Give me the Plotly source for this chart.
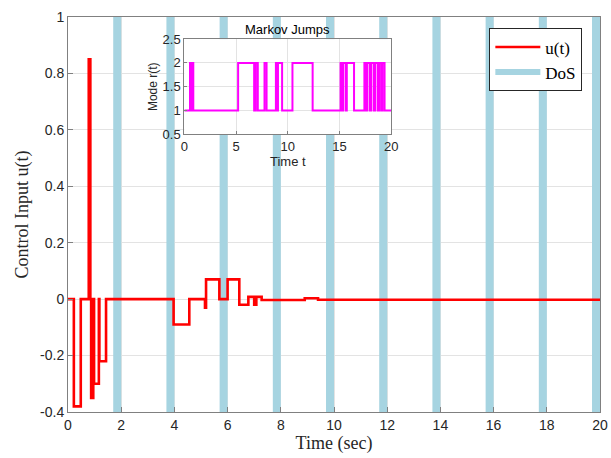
import plotly.graph_objects as go

# ---- Data ----
# Control input u(t) (step / zero-order-hold signal)
t_u = [0, 0.22, 0.48, 0.78, 0.84, 0.87, 0.95, 0.98, 1.16, 1.18, 1.43, 3.97, 4.56, 5.15, 5.19,
       5.69, 6.0, 6.44, 6.78, 7.0, 7.08, 7.28, 8.9, 9.4, 20]
u = [0, -0.38, 0, 0.85, 0, -0.35, 0, -0.30, 0, -0.22, 0, -0.09, 0, -0.03, 0.07,
     0, 0.07, -0.02, 0.008, -0.02, 0.008, -0.003, 0.003, -0.002, -0.002]

# DoS attack intervals (start, end) in seconds
dos_start = [1.7, 3.7, 5.7, 7.7, 9.7, 11.7, 13.7, 15.7, 17.7, 19.7]
dos_end = [2.0, 4.0, 6.0, 8.0, 10.0, 12.0, 14.0, 16.0, 18.0, 20.0]

# Markov mode r(t): switching instants and the mode taken from each instant
t_mode = [0, 0.55, 0.72, 0.78, 0.87, 5.2, 6.75, 6.9, 7.1, 7.75, 7.95, 8.85, 9.0, 9.05, 9.45,
          10.45, 12.4, 15.1, 15.25, 15.35, 15.6, 15.7, 16.4, 17.4, 17.55, 17.65, 17.9,
          18.05, 18.3, 18.45, 18.7, 18.85, 19.05, 19.15, 19.35, 20]
mode = [1, 2, 1, 2, 1, 2, 1, 2, 1, 2, 1, 2, 1, 2, 1,
        2, 1, 2, 1, 2, 1, 2, 1, 2, 1, 2, 1,
        2, 1, 2, 1, 2, 1, 2, 1, 1]

x_ticks = [0, 2, 4, 6, 8, 10, 12, 14, 16, 18, 20]
y_ticks = [-0.4, -0.2, 0, 0.2, 0.4, 0.6, 0.8, 1]
y_ticklabels = ["-0.4", "-0.2", "0", "0.2", "0.4", "0.6", "0.8", "1"]
inset_x_ticks = [0, 5, 10, 15, 20]
inset_y_ticks = [0.5, 1, 1.5, 2, 2.5]
inset_y_ticklabels = ["0.5", "1", "1.5", "2", "2.5"]

Y_MIN, Y_MAX = -0.4, 1.0

# ---- Build DoS band polygons ----
band_x, band_y = [], []
for s, e in zip(dos_start, dos_end):
    band_x += [s, e, e, s, s, None]
    band_y += [Y_MIN, Y_MIN, Y_MAX, Y_MAX, Y_MIN, None]

BAND = "#a6d4e1"
SANS = "Liberation Sans, Arial, sans-serif"
SERIF = "Liberation Serif, Times New Roman, serif"
AX = "#808080"
GRID = "#e3e3e3"
TXT = "#262626"

fig = go.Figure()

fig.add_trace(go.Scatter(
    x=band_x, y=band_y, fill="toself", fillcolor=BAND, mode="none",
    name="DoS", xaxis="x", yaxis="y", hoverinfo="skip", legendrank=2))

fig.add_trace(go.Scatter(
    x=t_u, y=u, mode="lines", line=dict(color="#ff0000", width=2.6, shape="hv"),
    name="u(t)", xaxis="x", yaxis="y", legendrank=1))

fig.add_trace(go.Scatter(
    x=t_mode, y=mode, mode="lines", line=dict(color="#ff00ff", width=2, shape="hv"),
    showlegend=False, xaxis="x2", yaxis="y2"))

fig.update_layout(
    width=611, height=458,
    margin=dict(l=68, r=11, t=17, b=46, autoexpand=False),
    paper_bgcolor="white", plot_bgcolor="white",
    showlegend=True,
    legend=dict(
        x=0.792, y=0.971, xanchor="left", yanchor="top",
        bgcolor="white", bordercolor=TXT, borderwidth=1,
        font=dict(family=SERIF, size=17, color="black"),
        tracegroupgap=0, itemwidth=45,
    ),
    xaxis=dict(
        domain=[0, 1], range=[0, 20], tickvals=x_ticks, automargin=False,
        showline=True, mirror=True, linecolor=AX, linewidth=1,
        showgrid=True, gridcolor=GRID, zeroline=False,
        ticks="inside", ticklen=5, tickcolor=AX,
        tickfont=dict(family=SANS, size=14, color=TXT),
        title=dict(text="Time (sec)", font=dict(family=SERIF, size=18, color=TXT), standoff=0),
    ),
    yaxis=dict(
        domain=[0, 1], range=[Y_MIN, Y_MAX], tickvals=y_ticks, ticktext=y_ticklabels,
        automargin=False,
        showline=True, mirror=True, linecolor=AX, linewidth=1,
        showgrid=True, gridcolor=GRID, zeroline=False,
        ticks="inside", ticklen=5, tickcolor=AX,
        tickfont=dict(family=SANS, size=14, color=TXT),
        title=dict(text="Control Input u(t)", font=dict(family=SERIF, size=18, color=TXT), standoff=6),
    ),
    xaxis2=dict(
        domain=[0.2186, 0.6077], anchor="y2", range=[0, 20], tickvals=inset_x_ticks,
        automargin=False,
        showline=True, mirror=True, linecolor=AX, linewidth=1,
        showgrid=True, gridcolor=GRID, zeroline=False,
        ticks="inside", ticklen=3, tickcolor=AX,
        tickfont=dict(family=SANS, size=13, color=TXT),
        title=dict(text="Time t", font=dict(family=SANS, size=13, color=TXT), standoff=1),
    ),
    yaxis2=dict(
        domain=[0.703, 0.944], anchor="x2", range=[0.5, 2.5], tickvals=inset_y_ticks,
        ticktext=inset_y_ticklabels, automargin=False,
        showline=True, mirror=True, linecolor=AX, linewidth=1,
        showgrid=True, gridcolor=GRID, zeroline=False,
        ticks="inside", ticklen=3, tickcolor=AX,
        tickfont=dict(family=SANS, size=13, color=TXT),
        title=dict(text="Mode r(t)", font=dict(family=SANS, size=12, color=TXT), standoff=2),
    ),
    annotations=[dict(
        text="Markov Jumps", xref="x2 domain", yref="y2 domain", x=0.5, y=1,
        xanchor="center", yanchor="bottom", yshift=0, showarrow=False,
        font=dict(family=SANS, size=13, color="black"),
    )],
)

fig.write_html(
    "out.html",
    config={"displayModeBar": False},
    post_script="document.body.style.margin='0';document.body.style.overflow='hidden';",
)
